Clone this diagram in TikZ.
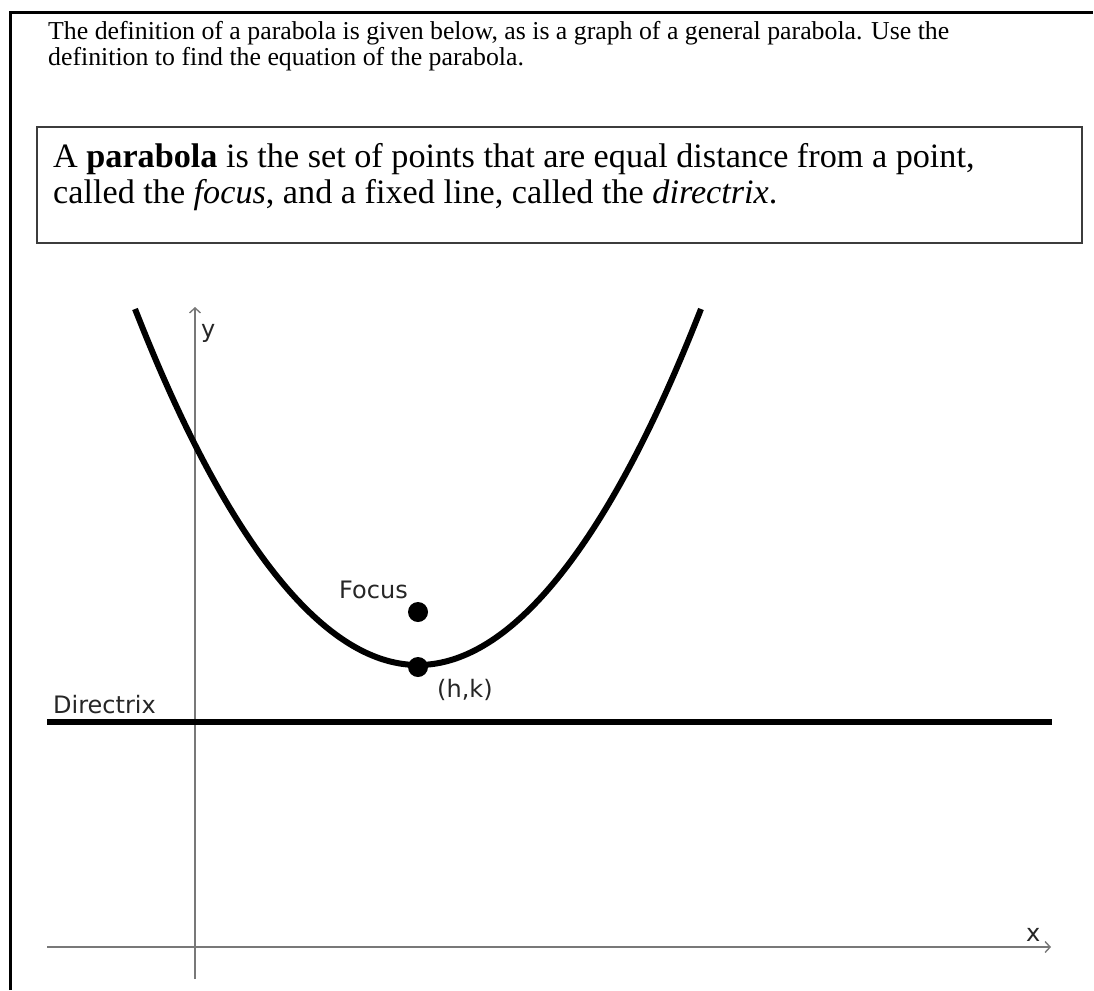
\documentclass[tikz,border=0pt]{standalone}
\usepackage{fontspec}
\setmainfont{Liberation Serif}
\newfontfamily\lblfont{DejaVu Sans}
\usetikzlibrary{arrows.meta}
\definecolor{axisgray}{RGB}{120,120,120}
\definecolor{boxgray}{RGB}{60,60,60}
\begin{document}
\begin{tikzpicture}[x=1pt,y=-1pt,
  frame/.style={line width=3pt,black},
  defbox/.style={draw=boxgray,line width=2pt},
  axis/.style={draw=axisgray,line width=1.6pt,-{Straight Barb[length=5pt,width=11pt,line width=1.4pt]}},
  thick curve/.style={line width=6pt,black},
  dot/.style={circle,fill=black,inner sep=0pt,minimum size=20pt},
  toptext/.style={anchor=base west,inner sep=0pt,font=\fontsize{25.8}{30}\selectfont},
  boxtext/.style={anchor=base west,inner sep=0pt,font=\fontsize{34.2}{40}\selectfont},
  lbl/.style={anchor=base west,inner sep=0pt,font=\lblfont\fontsize{24}{28}\selectfont,text=black!85}
]
\useasboundingbox (0,0) rectangle (1094,990);
% outer frame
\draw[frame] (10,990) -- (10,13) -- (1093,13);
% top text
\node[toptext] (t1) at (48,40) {The definition of a parabola is given below, as is a graph of a general parabola. Use the};
\node[toptext] (t2) at (48,65) {definition to find the equation of the parabola.};
% definition box
\draw[defbox] (37,127) rectangle (1082,243);
\node[boxtext] (b1) at (53,167) {A \textbf{parabola} is the set of points that are equal distance from a point,};
\node[boxtext] (b2) at (53,203) {called the \textit{focus}, and a fixed line, called the \textit{directrix}.};
% axes
\coordinate (ybot) at (195,979);
\coordinate (ytop) at (195,307);
\coordinate (xleft) at (47,947);
\coordinate (xright) at (1051,947);
\draw[axis] (ybot) -- (ytop);
\draw[axis] (xleft) -- (xright);
\node[lbl] (ylab) at (201,337) {y};
\node[lbl] (xlab) at (1026,941) {x};
% directrix
\coordinate (dl) at (47,722);
\coordinate (dr) at (1052,722);
\draw[line width=6.5pt] (dl) -- (dr);
\node[lbl] (dirlab) at (53,713) {Directrix};
% parabola
\draw[thick curve] (135,309) parabola bend (418,665) (701,309);
% points
\node[dot] (vertex) at (418,667) {};
\node[dot] (focus) at (418,612) {};
\node[lbl] (foclab) at (339,598) {Focus};
\node[lbl] (hklab) at (437,697) {(h,k)};
\end{tikzpicture}
\end{document}
